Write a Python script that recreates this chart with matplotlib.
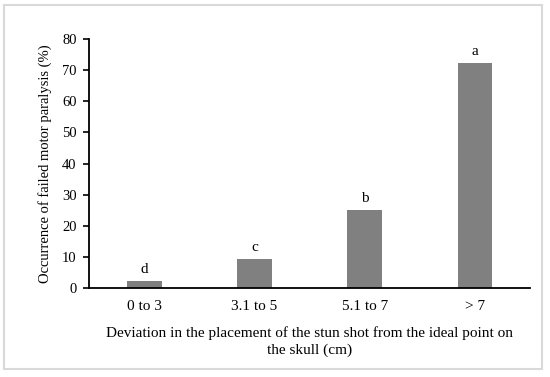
import matplotlib
matplotlib.use('Agg')
import matplotlib.pyplot as plt
from matplotlib.patches import Rectangle

# ---------- Data ----------
categories = ['0 to 3', '3.1 to 5', '5.1 to 7', '> 7']
values = [2.3, 9.3, 25.0, 72.2]
letters = ['d', 'c', 'b', 'a']
yticks = [0, 10, 20, 30, 40, 50, 60, 70, 80]

plt.rcParams['font.family'] = ['Liberation Serif', 'DejaVu Serif']
plt.rcParams['font.size'] = 10.5

fig = plt.figure(figsize=(5.5, 3.77), dpi=100)
ax = fig.add_axes([0.162, 0.235, 0.802, 0.662])

# ---------- Bars ----------
x = range(len(categories))
ax.bar(x, values, width=0.315, color='#808080')
for i, (v, lab) in enumerate(zip(values, letters)):
    ax.annotate(lab, (i, v), xytext=(0, 4), textcoords='offset points',
                ha='center', va='bottom', fontsize=11)

# ---------- Axes ----------
ax.set_xlim(-0.5, len(categories) - 0.5)
ax.set_ylim(0, 80)
ax.set_yticks(yticks)
ax.set_xticks(list(x))
ax.set_xticklabels(categories, fontsize=11)
ax.tick_params(axis='x', length=0, pad=8)
ax.tick_params(axis='y', direction='out', length=4, width=1.2, pad=5, labelsize=10.5)
for s in ['top', 'right']:
    ax.spines[s].set_visible(False)
for s in ['left', 'bottom']:
    ax.spines[s].set_linewidth(1.3)

ax.set_ylabel('Occurrence of failed motor paralysis (%)', labelpad=7, fontsize=10.5)
ax.set_xlabel('Deviation in the placement of the stun shot from the ideal point on\nthe skull (cm)',
              labelpad=10, linespacing=1.35, fontsize=11)

# ---------- Outer frame ----------
fig.patches.append(Rectangle((4 / 550, 1 - 369 / 377), 537.5 / 550, 364 / 377,
                             transform=fig.transFigure, fill=False,
                             edgecolor='#d9d9d9', linewidth=1.5))

fig.savefig('out.png', dpi=100)
